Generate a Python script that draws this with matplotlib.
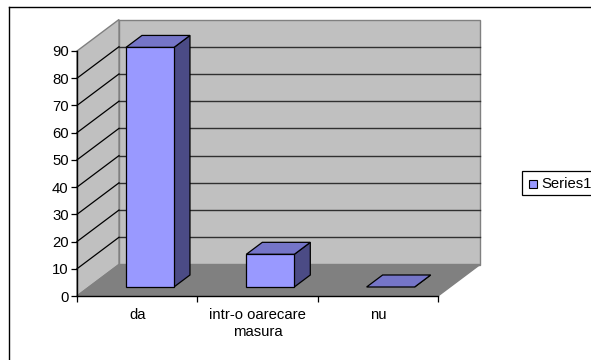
import matplotlib
matplotlib.use("Agg")
import matplotlib.pyplot as plt
from matplotlib.patches import Polygon, Rectangle
from matplotlib.lines import Line2D

# Chart data
categories = ["da", "intr-o oarecare\nmasura", "nu"]
values = [88, 12, 0]
series_name = "Series1"
y_ticks = [0, 10, 20, 30, 40, 50, 60, 70, 80, 90]

plt.rcParams["font.family"] = ["Liberation Sans", "DejaVu Sans"]
FS = 10.7

W, H = 591, 360
fig = plt.figure(figsize=(W / 100, H / 100), dpi=100)
fig.patch.set_facecolor("white")

# front face of the plot box, in pixels
L, R, B, T = 77, 438, 296, 51
ax = fig.add_axes([L / W, 1 - B / H, (R - L) / W, (B - T) / H])
ymax = y_ticks[-1]
ncat = len(categories)
ax.set_xlim(0, ncat)
ax.set_ylim(0, ymax)
ax.patch.set_visible(False)

# oblique depth offset (data units) of the back wall
DX = 42 / ((R - L) / ncat)
DY = 31.5 / ((B - T) / ymax)


def at(x, y, d):
    """Point (x, y) pushed back to depth fraction d."""
    return (x + d * DX, y + d * DY)


def poly(pts, fc, ec, lw=1.0, z=1):
    ax.add_patch(Polygon(pts, closed=True, facecolor=fc, edgecolor=ec,
                         linewidth=lw, clip_on=False, zorder=z,
                         joinstyle="miter"))


wall = "#C0C0C0"
wall_edge = "#808080"
floor = "#808080"

# walls and floor
poly([at(0, 0, 1), at(ncat, 0, 1), at(ncat, ymax, 1), at(0, ymax, 1)],
     wall, wall_edge, z=0)
poly([at(0, 0, 0), at(0, 0, 1), at(0, ymax, 1), at(0, ymax, 0)],
     wall, wall_edge, z=0)
poly([at(0, 0, 0), at(ncat, 0, 0), at(ncat, 0, 1), at(0, 0, 1)],
     floor, floor, z=0.5)

# gridlines on back wall, diagonals on side wall
for v in y_ticks[1:-1]:
    ax.add_line(Line2D([DX, ncat + DX], [v + DY, v + DY], color="#303030",
                       lw=1.0, clip_on=False, zorder=0.6))
    ax.add_line(Line2D([0, DX], [v, v + DY], color="black",
                       lw=0.9, clip_on=False, zorder=0.6))

# 3D columns
front_c, top_c, side_c = "#9999FF", "#7575C8", "#4B4B85"
d0, d1 = 0.286, 0.667
for i, v in enumerate(values):
    x0, x1 = i + 0.307, i + 0.706
    poly([at(x1, 0, d0), at(x1, 0, d1), at(x1, v, d1), at(x1, v, d0)],
         side_c, "black", 0.9, 2)
    poly([at(x0, v, d0), at(x1, v, d0), at(x1, v, d1), at(x0, v, d1)],
         top_c, "black", 0.9, 2)
    if v > 0:
        poly([at(x0, 0, d0), at(x1, 0, d0), at(x1, v, d0), at(x0, v, d0)],
             front_c, "black", 0.9, 3)

# axes: front edges
for s in ("top", "right"):
    ax.spines[s].set_visible(False)
for s in ("left", "bottom"):
    ax.spines[s].set_color("black")
    ax.spines[s].set_linewidth(1.0)
    ax.spines[s].set_zorder(4)

ax.set_yticks(y_ticks)
ax.set_yticklabels([str(t) for t in y_ticks], fontsize=FS)
ax.tick_params(axis="y", direction="out", length=4.5, width=0.9, pad=1.5,
               colors="black")
ax.set_xticks(range(ncat + 1))
ax.set_xticklabels([])
ax.tick_params(axis="x", which="major", direction="out", length=4, width=0.9,
               colors="black")
ax.set_xticks([i + 0.5 for i in range(ncat)], minor=True)
ax.set_xticklabels(categories, minor=True, fontsize=FS, linespacing=1.3)
ax.tick_params(axis="x", which="minor", length=0, pad=8.5)

# legend
lx0, ly0, lx1, ly1 = 522, 171.5, 600, 195.5
fig.add_artist(Rectangle((lx0 / W, 1 - ly1 / H), (lx1 - lx0) / W, (ly1 - ly0) / H,
                         transform=fig.transFigure, facecolor="white",
                         edgecolor="black", linewidth=0.9))
fig.add_artist(Rectangle((529 / W, 1 - 187.5 / H), 8 / W, 8 / H,
                         transform=fig.transFigure, facecolor=front_c,
                         edgecolor="black", linewidth=0.8))
fig.text(541 / W, 1 - 183.5 / H, series_name, fontsize=FS, va="center",
         ha="left")

# chart area border
fig.add_artist(Line2D([8.5 / W, 1], [1 - 6.5 / H, 1 - 6.5 / H],
                      transform=fig.transFigure, color="black", lw=1.0))
fig.add_artist(Line2D([8.5 / W, 8.5 / W], [0, 1 - 6.5 / H],
                      transform=fig.transFigure, color="black", lw=1.0))

fig.savefig("out.png", dpi=100)
